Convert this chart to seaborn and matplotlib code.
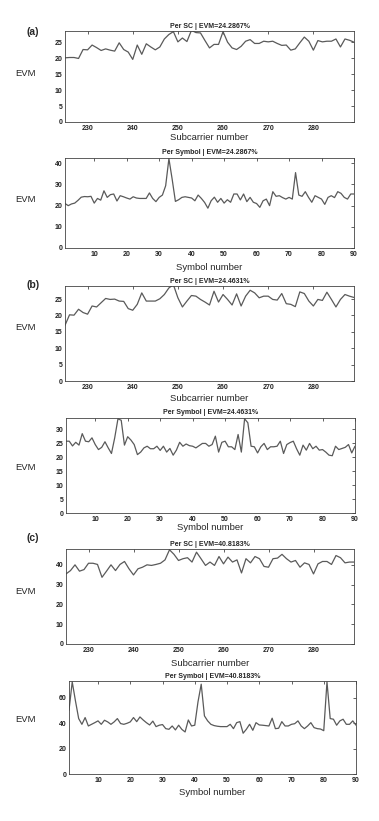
import numpy as np
import matplotlib
matplotlib.use("Agg")
import matplotlib.pyplot as plt
import seaborn as sns

# subcarrier axis (per-SC plots) and symbol axis (per-symbol plots)
subcarriers = list(range(225, 290))
symbols = list(range(1, 91))

# (a)
evm_sc_a = [20.1, 20.2, 20.2, 19.9, 22.7, 22.6, 24.1, 23.3, 22.4, 22.9,
            22.5, 22.2, 24.8, 22.7, 21.9, 19.6, 24.1, 21.2, 24.5, 23.5,
            22.6, 23.5, 26.0, 27.4, 28.3, 25.1, 26.3, 25.2, 28.7, 28.0,
            27.9, 25.5, 23.2, 24.3, 24.3, 28.3, 25.0, 23.2, 22.7, 23.7,
            25.3, 25.8, 24.6, 24.6, 25.3, 25.1, 25.3, 24.6, 24.0, 24.1,
            22.5, 22.9, 24.8, 26.6, 25.3, 22.5, 25.5, 25.1, 25.3, 25.3,
            26.0, 23.5, 26.0, 25.6, 25.0]
evm_sym_a = [21.0, 20.0, 20.8, 21.2, 22.5, 24.0, 24.3, 24.2, 24.4, 21.2,
             23.4, 22.6, 27.0, 23.9, 25.2, 25.5, 22.2, 24.7, 24.2, 23.6,
             23.1, 24.2, 23.6, 23.4, 23.4, 23.4, 26.0, 23.4, 21.9, 23.9,
             25.0, 29.4, 42.2, 32.5, 22.0, 22.8, 23.9, 24.2, 23.9, 23.6,
             22.3, 25.0, 23.4, 21.5, 18.8, 22.3, 24.0, 21.6, 23.4, 21.2,
             22.8, 21.6, 25.5, 25.5, 22.7, 25.5, 21.9, 23.9, 21.6, 21.0,
             19.2, 22.3, 23.1, 20.0, 26.6, 24.4, 24.7, 23.8, 23.1, 23.9,
             23.1, 35.6, 25.0, 24.4, 26.6, 23.9, 21.6, 24.7, 23.9, 23.1,
             20.6, 23.9, 24.7, 23.8, 26.6, 25.8, 23.9, 23.1, 25.5, 25.5]

# (b)
evm_sc_b = [17.0, 20.2, 20.1, 21.9, 20.9, 20.4, 22.9, 22.6, 23.9, 25.2,
            24.9, 25.0, 24.4, 24.3, 22.1, 21.6, 23.4, 26.9, 24.4, 24.4,
            24.4, 25.1, 26.4, 28.4, 29.4, 25.4, 22.6, 24.4, 26.1, 25.9,
            24.9, 24.1, 23.2, 27.4, 24.1, 26.4, 24.9, 23.2, 26.6, 22.9,
            25.9, 27.7, 26.9, 25.4, 25.9, 25.9, 24.9, 24.7, 26.7, 23.6,
            23.4, 22.7, 27.2, 26.7, 24.4, 22.9, 24.9, 24.6, 27.1, 24.9,
            22.6, 24.9, 26.4, 25.9, 25.5]
evm_sym_b = [25.7, 25.7, 24.0, 25.3, 24.3, 28.4, 25.7, 25.5, 26.9, 24.5,
             22.7, 23.5, 25.5, 23.3, 21.3, 26.9, 33.7, 33.2, 24.3, 27.3,
             26.1, 24.5, 20.9, 21.8, 23.3, 23.9, 23.0, 23.0, 23.9, 22.4,
             23.9, 21.8, 23.1, 20.7, 22.5, 25.3, 23.9, 24.7, 24.1, 23.9,
             23.3, 24.1, 24.9, 24.9, 23.9, 24.5, 27.5, 21.8, 25.3, 25.7,
             23.7, 23.7, 22.7, 28.1, 21.8, 33.7, 32.3, 23.9, 23.7, 21.5,
             23.7, 24.9, 22.7, 23.7, 23.7, 23.9, 25.7, 21.3, 24.5, 25.2,
             25.7, 23.0, 20.7, 24.3, 22.5, 24.9, 23.0, 23.9, 22.5, 22.7,
             21.8, 20.7, 20.5, 23.9, 22.7, 23.1, 23.5, 24.5, 21.5, 23.9]

# (c)
evm_sc_c = [35.4, 37.1, 40.0, 36.8, 37.6, 40.8, 40.8, 40.2, 33.7, 36.8,
            40.0, 37.1, 40.2, 41.7, 38.0, 34.9, 38.0, 38.8, 40.0, 39.7,
            40.2, 40.8, 42.5, 47.6, 45.3, 42.2, 43.1, 43.6, 41.4, 46.4,
            43.1, 39.7, 41.4, 39.7, 44.2, 40.5, 43.9, 41.4, 42.5, 35.9,
            43.1, 41.0, 44.2, 43.1, 39.2, 38.8, 43.1, 43.4, 45.3, 43.1,
            41.4, 42.2, 38.8, 41.0, 40.2, 35.4, 40.5, 41.7, 41.7, 40.2,
            44.7, 43.6, 41.0, 41.4, 41.4]
evm_sym_c = [50.0, 72.3, 57.4, 43.5, 39.0, 44.3, 37.7, 39.0, 40.3, 41.7,
             39.0, 42.2, 40.9, 39.0, 40.9, 43.5, 39.6, 39.0, 39.8, 40.9,
             44.3, 41.1, 44.8, 42.4, 40.3, 38.5, 41.5, 37.2, 38.3, 38.8,
             35.6, 35.1, 37.7, 34.6, 38.3, 35.0, 33.0, 42.4, 37.7, 38.3,
             56.6, 70.5, 45.6, 41.7, 39.0, 38.0, 37.5, 37.2, 37.2, 37.2,
             39.0, 35.6, 40.3, 41.1, 32.0, 35.1, 39.0, 34.3, 40.3, 38.5,
             38.3, 38.0, 37.7, 43.8, 35.6, 35.9, 41.1, 37.7, 37.7, 39.0,
             39.5, 41.7, 37.7, 35.6, 37.7, 40.3, 36.4, 35.6, 35.3, 34.0,
             72.3, 43.5, 43.0, 38.3, 41.7, 43.0, 39.0, 39.0, 41.7, 38.3]

titles = ["Per SC | EVM=24.2867%", "Per Symbol | EVM=24.2867%",
          "Per SC | EVM=24.4631%", "Per Symbol | EVM=24.4631%",
          "Per SC | EVM=40.8183%", "Per Symbol | EVM=40.8183%"]

sns.set_style("white")
plt.rcParams['font.family'] = ['Liberation Sans', 'DejaVu Sans']

W, H = 379, 821
fig = plt.figure(figsize=(W / 100, H / 100), dpi=100)


def px_axes(left, right, top, bottom):
	return fig.add_axes([left / W, 1 - bottom / H, (right - left) / W, (bottom - top) / H])


def draw_panel(ax, x, y, xlim, ylim, xticks, yticks):
	sns.lineplot(x=x, y=y, ax=ax, color='#5a5a5a', linewidth=0.9)
	ax.set_xlim(*xlim)
	ax.set_ylim(*ylim)
	ax.set_xticks(xticks)
	ax.set_yticks(yticks)
	ax.tick_params(direction='in', top=True, right=True, length=2, width=0.5,
	               labelsize=5, pad=2, colors='#222222')
	for lbl in ax.get_xticklabels() + ax.get_yticklabels():
		lbl.set_fontweight('bold')
	for s in ax.spines.values():
		s.set_linewidth(0.6)
		s.set_color('#444444')
	ax.set_xlabel('')
	ax.set_ylabel('')


sc_ticks = list(range(230, 290, 10))
sym_ticks = list(range(10, 100, 10))

# (left, right, top, bottom) in pixels, plus label y positions
panels = [
	(65, 354, 31, 122, subcarriers, evm_sc_a, (225, 289), (0, 28.5), sc_ticks, range(0, 30, 5), 138, 73, "Subcarrier number"),
	(65, 354, 158, 248, symbols, evm_sym_a, (1, 90), (0, 42.5), sym_ticks, range(0, 50, 10), 267, 199, "Symbol number"),
	(65, 354, 286, 381, subcarriers, evm_sc_b, (225, 289), (0, 29), sc_ticks, range(0, 30, 5), 398, 327, "Subcarrier number"),
	(66, 355, 418, 513, symbols, evm_sym_b, (1, 90), (0, 34), sym_ticks, range(0, 35, 5), 528, 467, "Symbol number"),
	(66, 354, 549, 644, subcarriers, evm_sc_c, (225, 289), (0, 48), sc_ticks, range(0, 50, 10), 663, 592, "Subcarrier number"),
	(69, 356, 681, 774, symbols, evm_sym_c, (1, 90), (0, 73), sym_ticks, range(0, 80, 20), 792, 719, "Symbol number"),
]

for i, (l, r, t, b, x, y, xl, yl, xt, yt, xlab_y, evm_y, xlab) in enumerate(panels):
	ax = px_axes(l, r, t, b)
	draw_panel(ax, x, y, xl, yl, xt, list(yt))
	cx = (l + r) / 2
	fig.text(cx / W, 1 - (t - 5) / H, titles[i], ha='center', va='center',
	         fontsize=5, fontweight='bold')
	fig.text(cx / W, 1 - xlab_y / H, xlab, ha='center', va='center', fontsize=6.8)
	fig.text(25 / W, 1 - evm_y / H, "EVM", ha='center', va='center', fontsize=6.8)

for letter, ly in [("(a)", 32), ("(b)", 285), ("(c)", 538)]:
	fig.text(33 / W, 1 - ly / H, letter, ha='center', va='center', fontsize=7.5, fontweight='bold')

fig.savefig("out.png", dpi=100)
